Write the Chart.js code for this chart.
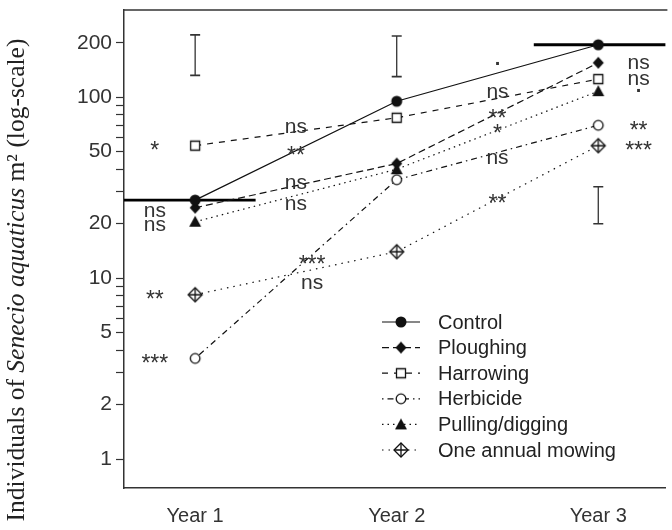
<!DOCTYPE html>
<html>
<head>
<meta charset="utf-8">
<script src="https://cdn.jsdelivr.net/npm/chart.js@4.4.1/dist/chart.umd.min.js"></script>
<style>
  body { margin: 0; background: #fff; overflow: hidden; }
  canvas { display: block; }
</style>
</head>
<body>
<canvas id="myChart" width="672" height="530"></canvas>
<script>
// categories on the x axis (plotted at 1, 2, 3)
const years = ['Year 1', 'Year 2', 'Year 3'];
const yearPos = [1, 2, 3];

// individuals per m2
const control = [27, 95, 195];
const ploughing = [24.5, 43, 155];
const harrowing = [54, 77, 126];
const herbicide = [3.6, 35, 70];
const pulling = [20.5, 40, 108];
const mowing = [8.1, 14, 54];

// LSD bars (low, high) per year
const barLow = [132, 130, 20];
const barHigh = [221, 218, 32];

// control level lines (x range in axis units, value)
const refLeft = [[0.647, 1.3], 27];
const refRight = [[2.68, 3.4], 195];

// log axis
const yTicks = [1, 2, 3, 4, 5, 6, 7, 8, 9, 10, 20, 30, 40, 50, 60, 70, 80, 90, 100, 200];
const yLabels = [1, 2, 5, 10, 20, 50, 100, 200];

// significance marks: [x, value, text]
const sigMarks = [
  [0.8, 54, '*'], [0.8, 23.5, 'ns'], [0.8, 19.5, 'ns'], [0.8, 8.1, '**'], [0.8, 3.6, '***'],
  [1.5, 68.5, 'ns'], [1.5, 50.6, '**'], [1.5, 33.4, 'ns'], [1.5, 25.6, 'ns'],
  [1.58, 12.6, '***'], [1.58, 9.4, 'ns'],
  [2.5, 152, '.'], [2.5, 106, 'ns'], [2.5, 80.7, '**'], [2.5, 66.8, '*'], [2.5, 46.3, 'ns'], [2.5, 27.6, '**'],
  [3.2, 155, 'ns'], [3.2, 126, 'ns'], [3.2, 108, '.'], [3.2, 70, '**'], [3.2, 54, '***']
];

const ink = '#111';
const sans = '"Liberation Sans", Arial, sans-serif';

// little marker images so the plot and the legend share them
function marker(kind) {
  const c = document.createElement('canvas');
  c.width = 18; c.height = 18;
  const g = c.getContext('2d');
  g.translate(9, 9);
  g.strokeStyle = ink; g.fillStyle = ink; g.lineWidth = 1.3;
  g.beginPath();
  if (kind === 'dot') {
    g.arc(0, 0, 5.5, 0, Math.PI * 2); g.fill();
  } else if (kind === 'diamond') {
    g.moveTo(0, -6); g.lineTo(5.5, 0); g.lineTo(0, 6); g.lineTo(-5.5, 0); g.closePath(); g.fill();
  } else if (kind === 'square') {
    g.fillStyle = '#fff'; g.rect(-4.5, -4.5, 9, 9); g.fill(); g.stroke();
  } else if (kind === 'ring') {
    g.fillStyle = '#fff'; g.arc(0, 0, 4.8, 0, Math.PI * 2); g.fill(); g.stroke();
  } else if (kind === 'tri') {
    g.moveTo(0, -6); g.lineTo(6, 5); g.lineTo(-6, 5); g.closePath(); g.fill();
  } else if (kind === 'diamondPlus') {
    g.fillStyle = '#fff';
    g.moveTo(0, -7); g.lineTo(7, 0); g.lineTo(0, 7); g.lineTo(-7, 0); g.closePath(); g.fill(); g.stroke();
    g.beginPath(); g.moveTo(0, -7); g.lineTo(0, 7); g.moveTo(-7, 0); g.lineTo(7, 0); g.stroke();
  }
  return c;
}

function pts(values) {
  return values.map((v, i) => ({ x: yearPos[i], y: v }));
}

function series(label, values, dash, kind) {
  return {
    label: label,
    data: pts(values),
    borderColor: ink,
    borderWidth: 1.2,
    borderDash: dash,
    pointStyle: marker(kind),
    fill: false,
    tension: 0
  };
}

const barData = [];
yearPos.forEach((x, i) => {
  barData.push({ x: x, y: barLow[i] }, { x: x, y: barHigh[i] }, { x: x + 0.5, y: null });
});

// frame top edge, y title, significance marks and legend
const extras = {
  id: 'extras',
  afterDraw(chart) {
    const ctx = chart.ctx;
    const a = chart.chartArea;
    const xs = chart.scales.x, ys = chart.scales.y;
    ctx.save();

    ctx.strokeStyle = '#333';
    ctx.lineWidth = 1.5;
    ctx.beginPath();
    ctx.moveTo(a.left, a.top);
    ctx.lineTo(a.right + 2, a.top);
    ctx.stroke();

    // y title with italic species name
    const parts = [
      ['Individuals of ', 'normal'],
      ['Senecio aquaticus', 'italic'],
      [' m\u00b2 (log-scale)', 'normal']
    ];
    const size = 25.5;
    let total = 0;
    parts.forEach(p => {
      ctx.font = p[1] + ' ' + size + 'px "Liberation Serif", "Times New Roman", serif';
      p.push(ctx.measureText(p[0]).width);
      total += p[2];
    });
    ctx.translate(17, 280);
    ctx.rotate(-Math.PI / 2);
    ctx.fillStyle = '#222';
    ctx.textBaseline = 'middle';
    let pos = -total / 2;
    parts.forEach(p => {
      ctx.font = p[1] + ' ' + size + 'px "Liberation Serif", "Times New Roman", serif';
      ctx.fillText(p[0], pos, 0);
      pos += p[2];
    });
    ctx.setTransform(1, 0, 0, 1, 0, 0);

    // significance marks
    ctx.fillStyle = '#333';
    ctx.textAlign = 'center';
    ctx.textBaseline = 'middle';
    sigMarks.forEach(m => {
      const px = xs.getPixelForValue(m[0]);
      let py = ys.getPixelForValue(m[1]);
      if (m[2].indexOf('*') >= 0) {
        ctx.font = '23px ' + sans;
        py += 6;
      } else if (m[2] === '.') {
        ctx.font = 'bold 20px ' + sans;
        py -= 5;
      } else {
        ctx.font = '21px ' + sans;
      }
      ctx.fillText(m[2], px, py);
    });

    // legend
    ctx.font = '20px ' + sans;
    ctx.textAlign = 'left';
    chart.data.datasets.slice(0, 6).forEach((ds, i) => {
      const y = 322 + i * 25.6;
      ctx.strokeStyle = ink;
      ctx.lineWidth = ds.borderWidth;
      ctx.setLineDash(ds.borderDash);
      ctx.beginPath();
      ctx.moveTo(382, y);
      ctx.lineTo(420, y);
      ctx.stroke();
      ctx.setLineDash([]);
      const img = ds.pointStyle;
      ctx.drawImage(img, 401 - img.width / 2, y - img.height / 2);
      ctx.fillStyle = '#222';
      ctx.fillText(ds.label, 438, y + 1);
    });
    ctx.restore();
  }
};

const ctx = document.getElementById('myChart').getContext('2d');
new Chart(ctx, {
  type: 'line',
  data: {
    datasets: [
      series('Control', control, [], 'dot'),
      series('Ploughing', ploughing, [7, 4], 'diamond'),
      series('Harrowing', harrowing, [6, 6], 'square'),
      series('Herbicide', herbicide, [1.5, 4, 6, 4], 'ring'),
      series('Pulling/digging', pulling, [1.5, 4], 'tri'),
      series('One annual mowing', mowing, [1.5, 5], 'diamondPlus'),
      {
        label: 'ref',
        data: [{ x: refLeft[0][0], y: refLeft[1] }, { x: refLeft[0][1], y: refLeft[1] }, { x: 2, y: null },
               { x: refRight[0][0], y: refRight[1] }, { x: refRight[0][1], y: refRight[1] }],
        borderColor: '#000',
        borderWidth: 2.8,
        pointRadius: 0,
        spanGaps: false
      },
      {
        label: 'lsd',
        data: barData,
        borderColor: '#333',
        borderWidth: 1.3,
        pointStyle: 'line',
        pointRadius: 5,
        pointBorderColor: '#333',
        pointBorderWidth: 1.6,
        spanGaps: false
      }
    ]
  },
  options: {
    responsive: false,
    animation: false,
    events: [],
    layout: { padding: { top: 10, right: 0, left: 0, bottom: 0 } },
    plugins: {
      legend: { display: false },
      tooltip: { enabled: false }
    },
    scales: {
      x: {
        type: 'linear',
        min: 0.647,
        max: 3.333,
        afterBuildTicks: s => { s.ticks = yearPos.map(v => ({ value: v })); },
        afterFit: s => { s.height = 42; },
        ticks: {
          callback: v => years[yearPos.indexOf(v)],
          font: { family: sans, size: 20 },
          color: '#333',
          padding: 16,
          maxRotation: 0
        },
        grid: { display: false, drawTicks: false },
        border: { display: true, color: '#333', width: 1.5 }
      },
      y: {
        type: 'logarithmic',
        min: 0.692,
        max: 303.5,
        afterBuildTicks: s => { s.ticks = yTicks.map(v => ({ value: v })); },
        afterFit: s => { s.width = 124; s.paddingTop = 0; s.paddingBottom = 0; },
        ticks: {
          callback: v => (yLabels.indexOf(v) >= 0 ? String(v) : ''),
          font: { family: sans, size: 21 },
          color: '#333',
          padding: 4,
          autoSkip: false
        },
        grid: { drawOnChartArea: false, tickLength: 8, color: '#333', tickWidth: 1.2 },
        border: { display: true, color: '#333', width: 1.5 }
      }
    }
  },
  plugins: [extras]
});
</script>
</body>
</html>
